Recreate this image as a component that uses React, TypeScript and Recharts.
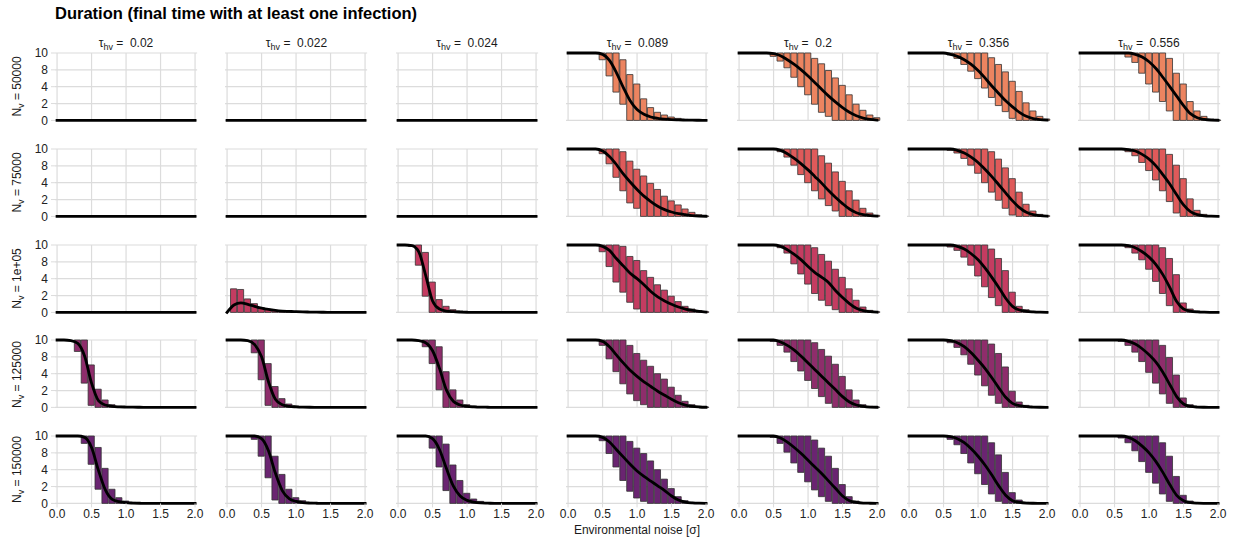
import { ComposedChart, Bar, Line, XAxis, YAxis, CartesianGrid } from 'recharts';

// noise levels (x), facet labels, tick labels
const xValues = [0, 0.1, 0.2, 0.3, 0.4, 0.5, 0.6, 0.7, 0.8, 0.9, 1, 1.1, 1.2, 1.3, 1.4, 1.5, 1.6, 1.7, 1.8, 1.9, 2];
const xTicks = [0, 0.5, 1, 1.5, 2];
const yTicks = [0, 2.5, 5, 7.5, 10];
const yTickLabels = ['0', '2', '4', '8', '10'];
const tauLabels = ['0.02', '0.022', '0.024', '0.089', '0.2', '0.356', '0.556'];
const nvLabels = ['50000', '75000', '1e+05', '125000', '150000'];
const rowColors = ['#EC8460', '#DF5A5A', '#C43C61', '#8E2D6B', '#6A2471'];

const allZero = [0, 0, 0, 0, 0, 0, 0, 0, 0, 0, 0, 0, 0, 0, 0, 0, 0, 0, 0, 0, 0];

// N_v = 50000
const lo50000 = [
  allZero, allZero, allZero,
  [10, 10, 10, 10, 10, 9.0, 6.6, 4.2, 2.4, 0, 0, 0, 0, 0, 0, 0, 0, 0, 0, 0, 0],
  [10, 10, 10, 10, 10, 9.5, 8.8, 7.8, 6.4, 5.0, 3.8, 2.4, 1.2, 0.6, 0, 0, 0, 0, 0, 0, 0],
  [10, 10, 10, 10, 10, 10, 9.7, 9.2, 8.3, 7.3, 6.2, 4.8, 3.4, 2.2, 1.3, 0.3, 0, 0, 0, 0, 0],
  [10, 10, 10, 10, 10, 10, 10, 9.4, 8.6, 7.0, 5.4, 4.2, 2.8, 1.4, 0, 0, 0, 0, 0, 0, 0],
];
const hi50000 = [
  allZero, allZero, allZero,
  [10, 10, 10, 10, 10, 10, 10, 10, 9.0, 6.8, 5.4, 3.2, 1.9, 1.2, 0.8, 0.5, 0.3, 0.15, 0.1, 0.05, 0],
  [10, 10, 10, 10, 10, 10, 10, 10, 10, 10, 10, 9.2, 8.4, 7.4, 6.3, 5.2, 3.8, 2.4, 1.5, 0.8, 0.4],
  [10, 10, 10, 10, 10, 10, 10, 10, 10, 10, 10, 10, 9.3, 8.3, 7.2, 5.8, 4.3, 2.6, 1.4, 0.6, 0.2],
  [10, 10, 10, 10, 10, 10, 10, 10, 10, 10, 10, 10, 10, 9.2, 7.0, 5.4, 2.8, 1.4, 0.6, 0.2, 0.05],
];
const mean50000 = [
  allZero, allZero, allZero,
  [10, 10, 10, 10, 10, 9.8, 8.9, 7.1, 4.9, 2.9, 1.6, 0.9, 0.5, 0.3, 0.18, 0.1, 0.07, 0.05, 0.03, 0.02, 0.01],
  [10, 10, 10, 10, 10, 9.9, 9.6, 9.0, 8.3, 7.5, 6.6, 5.6, 4.6, 3.6, 2.7, 1.9, 1.2, 0.7, 0.35, 0.15, 0.05],
  [10, 10, 10, 10, 10, 10, 9.8, 9.5, 9.0, 8.3, 7.4, 6.3, 5.1, 4.0, 2.9, 2.0, 1.2, 0.6, 0.25, 0.1, 0.05],
  [10, 10, 10, 10, 10, 10, 10, 10, 9.8, 9.4, 8.7, 7.7, 6.4, 5.0, 3.6, 2.2, 1.0, 0.4, 0.15, 0.05, 0.02],
];

// N_v = 75000
const lo75000 = [
  allZero, allZero, allZero,
  [10, 10, 10, 10, 10, 9.3, 7.8, 5.8, 3.8, 2.0, 1.2, 0, 0, 0, 0, 0, 0, 0, 0, 0, 0],
  [10, 10, 10, 10, 10, 10, 9.6, 8.8, 7.6, 6.2, 5.0, 3.8, 2.6, 1.6, 0.8, 0, 0, 0, 0, 0, 0],
  [10, 10, 10, 10, 10, 10, 9.8, 9.4, 8.6, 7.6, 6.4, 5.0, 3.6, 2.4, 1.2, 0.2, 0, 0, 0, 0, 0],
  [10, 10, 10, 10, 10, 10, 10, 9.6, 9.0, 8.0, 6.8, 5.4, 3.8, 2.2, 0.5, 0, 0, 0, 0, 0, 0],
];
const hi75000 = [
  allZero, allZero, allZero,
  [10, 10, 10, 10, 10, 10, 10, 10, 9.6, 8.2, 7.0, 6.0, 4.9, 4.0, 3.0, 2.3, 1.7, 1.1, 0.6, 0.25, 0.05],
  [10, 10, 10, 10, 10, 10, 10, 10, 10, 10, 10, 10, 9.0, 7.9, 6.6, 5.2, 3.8, 2.4, 1.2, 0.5, 0.15],
  [10, 10, 10, 10, 10, 10, 10, 10, 10, 10, 10, 10, 9.6, 8.5, 7.2, 5.6, 3.6, 1.8, 0.8, 0.3, 0.1],
  [10, 10, 10, 10, 10, 10, 10, 10, 10, 10, 10, 10, 10, 9.2, 7.6, 5.6, 2.6, 0.9, 0.3, 0.1, 0],
];
const mean75000 = [
  allZero, allZero, allZero,
  [10, 10, 10, 10, 10, 9.7, 8.9, 7.7, 6.3, 5.1, 4.0, 3.0, 2.2, 1.5, 1.0, 0.65, 0.4, 0.25, 0.12, 0.05, 0.02],
  [10, 10, 10, 10, 10, 10, 9.8, 9.3, 8.6, 7.8, 6.9, 5.9, 4.9, 3.8, 2.8, 1.9, 1.1, 0.55, 0.25, 0.1, 0.04],
  [10, 10, 10, 10, 10, 10, 10, 9.8, 9.4, 8.8, 8.0, 7.0, 5.9, 4.7, 3.5, 2.3, 1.3, 0.6, 0.25, 0.1, 0.03],
  [10, 10, 10, 10, 10, 10, 10, 9.9, 9.7, 9.2, 8.5, 7.5, 6.2, 4.8, 3.2, 1.7, 0.7, 0.25, 0.08, 0.03, 0.01],
];

// N_v = 1e+05
const lo1e05 = [
  allZero,
  allZero,
  [10, 10, 9.8, 7.0, 2.4, 0, 0, 0, 0, 0, 0, 0, 0, 0, 0, 0, 0, 0, 0, 0, 0],
  [10, 10, 10, 10, 10, 9.0, 6.8, 4.5, 3.0, 1.5, 0.5, 0, 0, 0, 0, 0, 0, 0, 0, 0, 0],
  [10, 10, 10, 10, 10, 10, 9.6, 8.8, 7.2, 5.7, 4.2, 2.8, 1.8, 1.0, 0.4, 0, 0, 0, 0, 0, 0],
  [10, 10, 10, 10, 10, 10, 9.7, 9.2, 8.2, 7.0, 5.4, 3.8, 2.2, 1.0, 0, 0, 0, 0, 0, 0, 0],
  [10, 10, 10, 10, 10, 10, 10, 9.6, 8.8, 7.8, 6.4, 4.6, 2.8, 1.0, 0, 0, 0, 0, 0, 0, 0],
];
const hi1e05 = [
  allZero,
  [0, 3.5, 3.4, 2.0, 1.3, 0.7, 0.45, 0.25, 0.15, 0.1, 0.05, 0, 0, 0, 0, 0, 0, 0, 0, 0, 0],
  [10, 10, 10, 10, 8.9, 4.5, 1.9, 0.9, 0.4, 0.2, 0.1, 0, 0, 0, 0, 0, 0, 0, 0, 0, 0],
  [10, 10, 10, 10, 10, 10, 10, 10, 9.8, 8.3, 7.7, 6.2, 5.2, 4.1, 3.3, 2.4, 1.6, 0.9, 0.5, 0.25, 0.1],
  [10, 10, 10, 10, 10, 10, 10, 10, 10, 10, 10, 9.6, 8.6, 7.6, 6.4, 5.2, 3.5, 1.8, 0.8, 0.3, 0.1],
  [10, 10, 10, 10, 10, 10, 10, 10, 10, 10, 10, 10, 9.4, 8.0, 6.2, 3.0, 0.9, 0.4, 0.15, 0.05, 0],
  [10, 10, 10, 10, 10, 10, 10, 10, 10, 10, 10, 10, 9.6, 8.0, 5.6, 1.4, 0.5, 0.2, 0.05, 0, 0],
];
const mean1e05 = [
  allZero,
  [0, 1.1, 1.4, 1.2, 0.9, 0.65, 0.45, 0.3, 0.2, 0.15, 0.1, 0.07, 0.05, 0.03, 0.02, 0.01, 0, 0, 0, 0, 0],
  [10, 10, 9.9, 9.0, 5.5, 1.7, 0.5, 0.2, 0.1, 0.05, 0.02, 0, 0, 0, 0, 0, 0, 0, 0, 0, 0],
  [10, 10, 10, 10, 10, 9.8, 9.2, 8.0, 6.9, 5.8, 5.0, 4.1, 3.1, 2.3, 1.7, 1.2, 0.8, 0.5, 0.3, 0.15, 0.05],
  [10, 10, 10, 10, 10, 10, 9.8, 9.3, 8.6, 7.8, 6.8, 5.9, 5.2, 4.4, 3.2, 2.2, 1.3, 0.6, 0.25, 0.1, 0.03],
  [10, 10, 10, 10, 10, 10, 10, 9.8, 9.4, 8.7, 7.8, 6.6, 5.2, 3.7, 2.1, 0.9, 0.35, 0.15, 0.07, 0.03, 0.01],
  [10, 10, 10, 10, 10, 10, 10, 9.9, 9.6, 9.0, 8.2, 7.1, 5.6, 3.7, 1.6, 0.5, 0.2, 0.08, 0.03, 0.01, 0],
];

// N_v = 125000
const lo125000 = [
  [10, 10, 10, 8.3, 3.6, 0.3, 0, 0, 0, 0, 0, 0, 0, 0, 0, 0, 0, 0, 0, 0, 0],
  [10, 10, 10, 10, 8.1, 4.1, 0.3, 0, 0, 0, 0, 0, 0, 0, 0, 0, 0, 0, 0, 0, 0],
  [10, 10, 10, 10, 9.0, 6.5, 2.6, 0, 0, 0, 0, 0, 0, 0, 0, 0, 0, 0, 0, 0, 0],
  [10, 10, 10, 10, 10, 9.2, 7.2, 5.3, 3.5, 2.0, 1.0, 0.4, 0, 0, 0, 0, 0, 0, 0, 0, 0],
  [10, 10, 10, 10, 10, 9.8, 9.2, 8.2, 6.8, 5.4, 4.0, 2.8, 1.6, 0.6, 0, 0, 0, 0, 0, 0, 0],
  [10, 10, 10, 10, 10, 10, 9.6, 8.9, 7.8, 6.4, 4.8, 3.2, 1.8, 0.6, 0, 0, 0, 0, 0, 0, 0],
  [10, 10, 10, 10, 10, 10, 9.8, 9.2, 8.2, 6.8, 5.2, 3.6, 2.0, 0.6, 0, 0, 0, 0, 0, 0, 0],
];
const hi125000 = [
  [10, 10, 10, 10, 10, 6.3, 2.7, 1.1, 0.4, 0.15, 0.05, 0, 0, 0, 0, 0, 0, 0, 0, 0, 0],
  [10, 10, 10, 10, 10, 10, 6.5, 3.1, 1.3, 0.5, 0.2, 0.05, 0, 0, 0, 0, 0, 0, 0, 0, 0],
  [10, 10, 10, 10, 10, 10, 9.0, 5.3, 2.6, 1.1, 0.4, 0.2, 0.05, 0, 0, 0, 0, 0, 0, 0, 0],
  [10, 10, 10, 10, 10, 10, 10, 10, 10, 9.2, 8.0, 7.0, 6.1, 5.0, 4.2, 3.0, 1.8, 0.9, 0.4, 0.15, 0.05],
  [10, 10, 10, 10, 10, 10, 10, 10, 10, 10, 10, 9.6, 8.6, 7.6, 6.4, 4.6, 2.6, 1.1, 0.4, 0.15, 0.05],
  [10, 10, 10, 10, 10, 10, 10, 10, 10, 10, 10, 10, 9.4, 8.0, 6.0, 2.4, 0.8, 0.3, 0.1, 0.03, 0],
  [10, 10, 10, 10, 10, 10, 10, 10, 10, 10, 10, 10, 9.2, 7.4, 4.8, 1.4, 0.4, 0.1, 0, 0, 0],
];
const mean125000 = [
  [10, 10, 9.9, 9.5, 7.6, 3.6, 1.0, 0.35, 0.15, 0.08, 0.05, 0.03, 0.02, 0.01, 0, 0, 0, 0, 0, 0, 0],
  [10, 10, 10, 9.9, 9.3, 7.5, 3.8, 1.2, 0.4, 0.15, 0.08, 0.04, 0.02, 0.01, 0, 0, 0, 0, 0, 0, 0],
  [10, 10, 10, 9.9, 9.6, 8.4, 5.8, 2.6, 0.9, 0.35, 0.15, 0.08, 0.04, 0.02, 0, 0, 0, 0, 0, 0, 0],
  [10, 10, 10, 10, 10, 9.8, 9.0, 7.8, 6.6, 5.5, 4.6, 3.8, 3.1, 2.4, 1.8, 1.2, 0.7, 0.35, 0.15, 0.06, 0.02],
  [10, 10, 10, 10, 10, 10, 9.7, 9.2, 8.5, 7.6, 6.6, 5.6, 4.6, 3.6, 2.6, 1.6, 0.8, 0.35, 0.15, 0.05, 0.02],
  [10, 10, 10, 10, 10, 10, 9.9, 9.6, 9.0, 8.1, 7.0, 5.8, 4.4, 2.9, 1.5, 0.6, 0.25, 0.1, 0.05, 0.02, 0.01],
  [10, 10, 10, 10, 10, 10, 10, 9.8, 9.4, 8.7, 7.8, 6.7, 5.2, 3.4, 1.6, 0.5, 0.15, 0.05, 0.02, 0.01, 0],
];

// N_v = 150000
const lo150000 = [
  [10, 10, 10, 10, 8.9, 5.8, 2.1, 0, 0, 0, 0, 0, 0, 0, 0, 0, 0, 0, 0, 0, 0],
  [10, 10, 10, 10, 9.5, 7.0, 3.8, 0.5, 0, 0, 0, 0, 0, 0, 0, 0, 0, 0, 0, 0, 0],
  [10, 10, 10, 10, 10, 8.2, 5.4, 1.9, 0, 0, 0, 0, 0, 0, 0, 0, 0, 0, 0, 0, 0],
  [10, 10, 10, 10, 10, 9.3, 7.4, 5.4, 3.4, 1.8, 0.8, 0.3, 0, 0, 0, 0, 0, 0, 0, 0, 0],
  [10, 10, 10, 10, 10, 9.8, 8.9, 7.6, 6.0, 4.6, 3.2, 2.0, 1.0, 0.3, 0, 0, 0, 0, 0, 0, 0],
  [10, 10, 10, 10, 10, 10, 9.5, 8.7, 7.4, 6.0, 4.4, 2.8, 1.4, 0.3, 0, 0, 0, 0, 0, 0, 0],
  [10, 10, 10, 10, 10, 10, 9.7, 9.0, 7.8, 6.2, 4.6, 3.0, 1.4, 0.3, 0, 0, 0, 0, 0, 0, 0],
];
const hi150000 = [
  [10, 10, 10, 10, 10, 10, 8.3, 5.2, 2.1, 0.85, 0.35, 0.15, 0.05, 0, 0, 0, 0, 0, 0, 0, 0],
  [10, 10, 10, 10, 10, 10, 10, 7.0, 4.3, 2.1, 0.85, 0.4, 0.15, 0.05, 0, 0, 0, 0, 0, 0, 0],
  [10, 10, 10, 10, 10, 10, 10, 8.8, 5.7, 3.4, 1.5, 0.65, 0.3, 0.1, 0, 0, 0, 0, 0, 0, 0],
  [10, 10, 10, 10, 10, 10, 10, 10, 10, 9.2, 8.2, 7.4, 6.3, 5.0, 3.6, 2.2, 1.0, 0.4, 0.15, 0.05, 0],
  [10, 10, 10, 10, 10, 10, 10, 10, 10, 10, 10, 9.4, 8.2, 7.0, 5.2, 2.8, 1.0, 0.35, 0.1, 0.03, 0],
  [10, 10, 10, 10, 10, 10, 10, 10, 10, 10, 10, 10, 9.0, 7.2, 4.6, 1.6, 0.5, 0.15, 0.05, 0, 0],
  [10, 10, 10, 10, 10, 10, 10, 10, 10, 10, 10, 10, 9.0, 7.0, 4.0, 1.2, 0.35, 0.1, 0, 0, 0],
];
const mean150000 = [
  [10, 10, 10, 10, 9.8, 8.3, 4.9, 2.0, 0.6, 0.25, 0.1, 0.05, 0.02, 0, 0, 0, 0, 0, 0, 0, 0],
  [10, 10, 10, 10, 10, 9.6, 7.8, 4.5, 1.9, 0.7, 0.3, 0.12, 0.05, 0.02, 0, 0, 0, 0, 0, 0, 0],
  [10, 10, 10, 10, 10, 9.6, 8.0, 5.2, 2.6, 1.1, 0.45, 0.2, 0.08, 0.04, 0, 0, 0, 0, 0, 0, 0],
  [10, 10, 10, 10, 10, 9.8, 9.1, 8.0, 6.9, 5.8, 4.8, 4.0, 3.3, 2.6, 1.9, 1.1, 0.5, 0.2, 0.08, 0.03, 0.01],
  [10, 10, 10, 10, 10, 10, 9.7, 9.1, 8.3, 7.4, 6.4, 5.4, 4.4, 3.3, 2.2, 1.1, 0.4, 0.15, 0.05, 0.02, 0],
  [10, 10, 10, 10, 10, 10, 9.9, 9.6, 9.0, 8.1, 7.0, 5.7, 4.2, 2.6, 1.2, 0.4, 0.15, 0.05, 0.02, 0.01, 0],
  [10, 10, 10, 10, 10, 10, 10, 9.8, 9.3, 8.5, 7.5, 6.2, 4.6, 2.8, 1.2, 0.4, 0.12, 0.04, 0.01, 0, 0],
];

const lowRows = [lo50000, lo75000, lo1e05, lo125000, lo150000];
const highRows = [hi50000, hi75000, hi1e05, hi125000, hi150000];
const meanRows = [mean50000, mean75000, mean1e05, mean125000, mean150000];

// facet grid layout (pixels)
const X_MIN = -0.03;
const X_MAX = 2.03;
const PX_PER_UNIT = 69;
const COL0_X = 57; // pixel of x = 0 in first column
const COL_STEP = 170.5;
const ROW0_Y = 53.3; // pixel of y = 10 in first row
const ROW_STEP = 95.7;
const PLOT_W = (X_MAX - X_MIN) * PX_PER_UNIT;
const PLOT_H = 67.4;
const PAD = 12;
const BAR_W = 0.1 * PX_PER_UNIT;
const FONT = '"Liberation Sans", Arial, Helvetica, sans-serif';

function Panel({ row, col }: { row: number; col: number }) {
  const lo = lowRows[row][col];
  const hi = highRows[row][col];
  const mid = meanRows[row][col];
  const data = xValues.map((x, i) => ({ x, band: [lo[i], hi[i]], mean: mid[i] }));

  const showY = col === 0;
  const showX = row === nvLabels.length - 1;
  const yAxisW = showY ? 50 : 0;
  const xAxisH = showX ? 24 : 0;
  const plotLeft = COL0_X + col * COL_STEP + X_MIN * PX_PER_UNIT;
  const plotTop = ROW0_Y + row * ROW_STEP;

  return (
    <div style={{ position: 'absolute', left: plotLeft - PAD - yAxisW, top: plotTop - PAD }}>
      <ComposedChart
        width={yAxisW + PLOT_W + 2 * PAD}
        height={PLOT_H + 2 * PAD + xAxisH}
        data={data}
        margin={{ top: PAD, right: PAD, bottom: PAD, left: PAD }}
      >
        <CartesianGrid horizontalValues={yTicks} verticalValues={xTicks} stroke="#DCDCDC" strokeWidth={1.2} />
        <XAxis
          dataKey="x"
          type="number"
          domain={[X_MIN, X_MAX]}
          ticks={xTicks}
          interval={0}
          hide={!showX}
          height={xAxisH || 1}
          axisLine={false}
          tickLine={{ stroke: '#DCDCDC' }}
          tickSize={4}
          tickMargin={2}
          tick={{ fontSize: 12, fill: '#222' }}
          tickFormatter={(v: number) => v.toFixed(1)}
        />
        <YAxis
          type="number"
          domain={[0, 10]}
          ticks={yTicks}
          interval={0}
          hide={!showY}
          width={yAxisW || 1}
          axisLine={false}
          tickLine={{ stroke: '#DCDCDC' }}
          tickSize={4}
          tickMargin={3}
          tick={{ fontSize: 12, fill: '#222' }}
          tickFormatter={(v: number) => yTickLabels[yTicks.indexOf(v)]}
        />
        <Bar dataKey="band" fill={rowColors[row]} stroke="#333" strokeWidth={0.8} barSize={BAR_W} isAnimationActive={false} />
        <Line
          type="monotone"
          dataKey="mean"
          stroke="#000"
          strokeWidth={2.8}
          strokeLinecap="square"
          dot={false}
          activeDot={false}
          isAnimationActive={false}
        />
      </ComposedChart>
    </div>
  );
}

const sub = { fontSize: '0.75em', position: 'relative' as const, top: '0.3em' };

export default function App() {
  return (
    <div style={{ position: 'absolute', left: 0, top: 0, width: 1239, height: 548, background: '#fff', fontFamily: FONT, color: '#1a1a1a' }}>
      <div style={{ position: 'absolute', left: 55, top: 3, fontSize: 16.5, fontWeight: 'bold', lineHeight: '20px', whiteSpace: 'nowrap', color: '#000' }}>
        Duration (final time with at least one infection)
      </div>

      {tauLabels.map((tau, c) => (
        <div
          key={tau}
          style={{
            position: 'absolute',
            left: COL0_X + c * COL_STEP + X_MIN * PX_PER_UNIT,
            width: PLOT_W,
            top: 36,
            fontSize: 12,
            lineHeight: '15px',
            textAlign: 'center',
            whiteSpace: 'pre',
          }}
        >
          τ<span style={sub}>hv</span>{' =  ' + tau}
        </div>
      ))}

      {nvLabels.map((nv, r) => (
        <div
          key={nv}
          style={{
            position: 'absolute',
            left: 8,
            width: 18,
            top: ROW0_Y + r * ROW_STEP,
            height: PLOT_H,
            overflow: 'hidden',
            display: 'flex',
            alignItems: 'center',
            justifyContent: 'center',
          }}
        >
          <span style={{ transform: 'rotate(-90deg)', whiteSpace: 'pre', fontSize: 12, lineHeight: '14px', flexShrink: 0 }}>
            N<span style={sub}>v</span>{' = ' + nv}
          </span>
        </div>
      ))}

      {nvLabels.map((nv, r) => tauLabels.map((tau, c) => <Panel key={nv + tau} row={r} col={c} />))}

      <div style={{ position: 'absolute', left: 55, width: 1164, top: 522, fontSize: 12, lineHeight: '16px', textAlign: 'center' }}>
        Environmental noise [σ]
      </div>
    </div>
  );
}
